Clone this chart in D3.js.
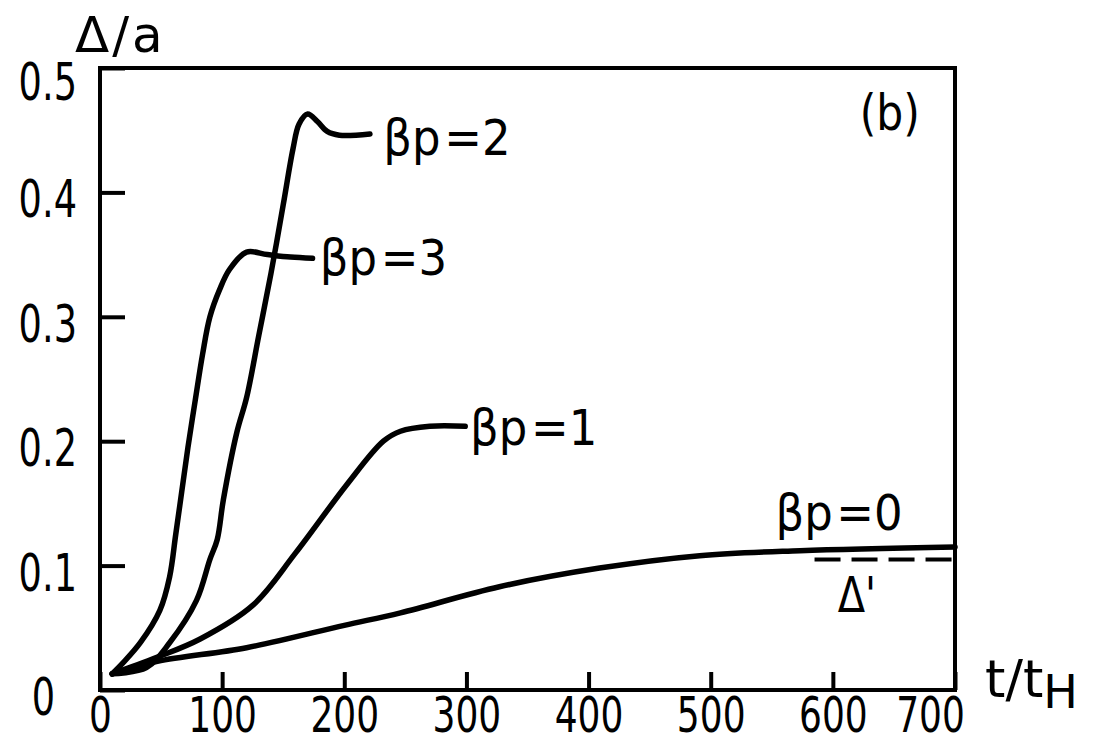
<!DOCTYPE html>
<html>
<head>
<meta charset="utf-8">
<script src="https://d3js.org/d3.v7.min.js"></script>
<style>
  body { margin: 0; background: #fff; }
  svg text { font-family: 'DejaVu Sans', sans-serif; fill: #000; }
</style>
</head>
<body>
<svg id="chart" width="1099" height="746"></svg>
<script>
// values (t/tH, Δ/a)
const t0 = [10, 47, 120, 200, 246, 327, 409, 491, 573, 700];
const v0 = [0.013, 0.023, 0.034, 0.052, 0.062, 0.083, 0.098, 0.108, 0.112, 0.115];

const t1 = [10, 46, 82, 125, 160, 202, 232, 246, 270, 299];
const v1 = [0.013, 0.026, 0.041, 0.068, 0.11, 0.165, 0.2, 0.208, 0.212, 0.212];

const t2 = [10, 38, 57, 79, 90, 96, 101, 112, 120, 130, 140, 150, 158, 163, 170, 178, 186, 196, 221];
const v2 = [0.013, 0.018, 0.038, 0.072, 0.105, 0.121, 0.153, 0.207, 0.235, 0.285, 0.335, 0.39, 0.435, 0.455, 0.463, 0.457, 0.449, 0.446, 0.447];

const t3 = [10, 19, 33, 49, 57, 62, 67, 72, 78, 84, 90, 98, 106, 120, 137, 156, 174];
const v3 = [0.013, 0.022, 0.038, 0.064, 0.091, 0.125, 0.16, 0.195, 0.233, 0.27, 0.3, 0.322, 0.338, 0.352, 0.35, 0.348, 0.347];

const dashT = [585, 700];
const dashV = [0.105, 0.105];

const xTicks = [0, 100, 200, 300, 400, 500, 600, 700];
const yTicks = [0, 0.1, 0.2, 0.3, 0.4, 0.5];

const zip = (ts, vs) => ts.map((t, i) => ({t: t, v: vs[i]}));

const svg = d3.select('#chart');
const margin = {top: 68, right: 144, bottom: 56, left: 100};
const width = 1099 - margin.left - margin.right;
const height = 746 - margin.top - margin.bottom;
const sx = 0.72; // narrow the digits like the original lettering

const g = svg.append('g').attr('transform', `translate(${margin.left},${margin.top})`);

const x = d3.scaleLinear().domain([0, 700]).range([0, width]);
const y = d3.scaleLinear().domain([0, 0.5]).range([height, 0]);

// frame
g.append('rect')
  .attr('width', width).attr('height', height)
  .attr('fill', 'none').attr('stroke', '#000').attr('stroke-width', 4);

// x axis, ticks pointing inward
const xAxis = g.append('g')
  .attr('transform', `translate(0,${height})`)
  .call(d3.axisBottom(x).tickValues(xTicks).tickSize(-18).tickFormat(d3.format('d')));
xAxis.select('.domain').remove();
xAxis.selectAll('line').attr('stroke', '#000').attr('stroke-width', 4);
xAxis.selectAll('text')
  .attr('y', 42).attr('dy', 0)
  .attr('font-size', 50)
  .attr('x', d => d === 700 ? -25 / sx : 0)
  .attr('transform', `scale(${sx},1)`);

// y axis, ticks pointing inward
const yAxis = g.append('g')
  .call(d3.axisLeft(y).tickValues(yTicks).tickSize(-25).tickFormat(d => d === 0 ? '0' : d3.format('.1f')(d)));
yAxis.select('.domain').remove();
yAxis.selectAll('line').attr('stroke', '#000').attr('stroke-width', 4);
yAxis.selectAll('text')
  .attr('x', d => d === 0 ? -45 / sx : -23 / sx)
  .attr('font-size', 51)
  .attr('dy', d => d === 0.5 ? '0.62em' : '0.48em')
  .attr('transform', `scale(${sx},1)`);

// curves
const line = d3.line()
  .x(d => x(d.t))
  .y(d => y(d.v))
  .curve(d3.curveCatmullRom.alpha(0.5));

[zip(t0, v0), zip(t1, v1), zip(t2, v2), zip(t3, v3)].forEach(s => {
  g.append('path')
    .datum(s)
    .attr('fill', 'none')
    .attr('stroke', '#000')
    .attr('stroke-width', 5.5)
    .attr('stroke-linecap', 'round')
    .attr('d', line);
});

g.append('path')
  .datum(zip(dashT, dashV))
  .attr('fill', 'none')
  .attr('stroke', '#000')
  .attr('stroke-width', 4)
  .attr('stroke-dasharray', '26 11')
  .attr('d', d3.line().x(d => x(d.t)).y(d => y(d.v)));

// annotations placed in data coordinates
function note(t, v, k) {
  return g.append('text')
    .attr('transform', `translate(${x(t)},${y(v)}) scale(${k},1)`)
    .attr('font-size', 50);
}
function betaLabel(t, v, val) {
  const txt = note(t, v, 0.9);
  txt.append('tspan').text('β');
  txt.append('tspan').text('p');
  txt.append('tspan').attr('dx', 4).text('=' + val);
}
betaLabel(232, 0.43, '2');
betaLabel(180, 0.334, '3');
betaLabel(303, 0.197, '1');
betaLabel(553, 0.129, '0');

note(604, 0.063, 0.8).text("Δ'");
note(622, 0.45, 0.85).text('(b)');

// axis titles
svg.append('text')
  .attr('x', 75).attr('y', 52)
  .attr('font-size', 50)
  .attr('letter-spacing', 3)
  .text('Δ/a');

const xt = svg.append('text')
  .attr('x', 985).attr('y', 697)
  .attr('font-size', 52);
xt.append('tspan').text('t/t');
xt.append('tspan').attr('dy', 11).attr('font-size', 46).text('H');
</script>
</body>
</html>
